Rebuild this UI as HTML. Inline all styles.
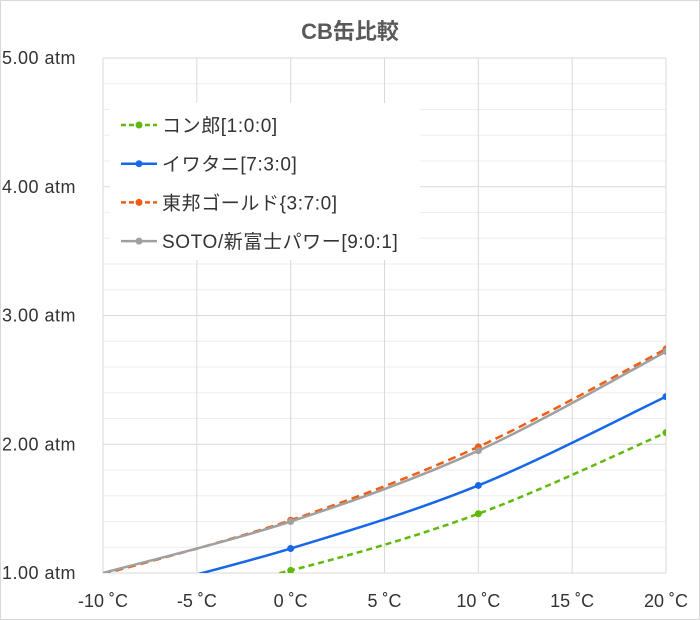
<!DOCTYPE html>
<html><head><meta charset="utf-8"><style>
body{margin:0;background:#fff}
svg{display:block;font-family:"Liberation Sans","Noto Sans CJK JP",sans-serif}
</style></head><body>
<svg id="c" width="700" height="620">
<rect x="0.5" y="0.5" width="699" height="619" fill="#fff" stroke="#d9d9d9"/>
<text x="350" y="39" text-anchor="middle" font-size="22" font-weight="bold" fill="#595959">CB缶比較</text>
<g id="grid"></g><g id="axes"></g>
<defs><clipPath id="pc"><rect x="103" y="58" width="563" height="515"/></clipPath></defs>
<g id="series" clip-path="url(#pc)"></g>
<g id="legend"></g>
</svg>
<script>
const temps=[-10,0,10,20];
const seriesNames=["コン郎[1:0:0]","イワタニ[7:3:0]","東邦ゴールド{3:7:0]","SOTO/新富士パワー[9:0:1]"];
const konro=[0.72,1.02,1.46,2.09];
const iwatani=[0.80,1.19,1.68,2.37];
const toho=[0.99,1.41,1.98,2.74];
const soto=[1.00,1.40,1.95,2.72];
const xTicks=[-10,-5,0,5,10,15,20];
const yTicks=[1,2,3,4,5];
const X0=103,X1=666,Y0=573,Y1=58;
const xs=v=>X0+(v+10)/30*(X1-X0);
const ys=v=>Y0-(v-1)/4*(Y0-Y1);
const NS="http://www.w3.org/2000/svg";
function mk(t,a,p){const e=document.createElementNS(NS,t);for(const k in a)e.setAttribute(k,a[k]);p.appendChild(e);return e;}
const grid=document.getElementById('grid'),axes=document.getElementById('axes');
for(let v=1;v<=5.001;v+=0.2){const major=Math.abs(v-Math.round(v))<0.01;
const l=mk('line',{x1:X0,x2:X1,y1:ys(v),y2:ys(v),stroke:major?'#d9d9d9':'#eeeeee','stroke-width':1},grid);

}
xTicks.forEach(t=>{const l=mk('line',{x1:xs(t),x2:xs(t),y1:Y1,y2:Y0,stroke:'#d9d9d9'},grid);


const tx=mk('text',{x:xs(t),y:607,'text-anchor':'middle','font-size':18,fill:'#333'},axes);tx.textContent=t+' ˚C';

});
yTicks.forEach(t=>{const tx=mk('text',{x:2,y:ys(t)+6,'font-size':18,'letter-spacing':'0.5',fill:'#333'},axes);tx.textContent=t.toFixed(2)+' atm';

});
function path(vals){const p=temps.map((t,i)=>[xs(t),ys(vals[i])]);let d='M'+p[0];
for(let i=0;i<p.length-1;i++){const a=p[i-1]||p[i],b=p[i],c=p[i+1],e=p[i+2]||c;
d+=` C${b[0]+(c[0]-a[0])/6},${b[1]+(c[1]-a[1])/6} ${c[0]-(e[0]-b[0])/6},${c[1]-(e[1]-b[1])/6} ${c[0]},${c[1]}`;}return d;}
const sdefs=[[konro,'#5fb80a','6,4'],[iwatani,'#1668e8',''],[toho,'#f25c13','8,5'],[soto,'#a0a0a0','']];
const sg=document.getElementById('series');
sdefs.forEach((s,i)=>{const pth=mk('path',{d:path(s[0]),fill:'none',stroke:s[1],'stroke-width':2.5,'stroke-dasharray':s[2]},sg);


temps.forEach((t,j)=>{if(t<0)return;const c=mk('circle',{cx:xs(t),cy:ys(s[0][j]),r:3.5,fill:s[1]},sg);

});});
const lg=document.getElementById('legend');
const bg=mk('rect',{x:110,y:103,width:310,height:157,fill:'#fff'},lg);


sdefs.forEach((s,i)=>{const y=125+i*38.7;
const l=mk('line',{x1:121,x2:157,y1:y,y2:y,stroke:s[1],'stroke-width':2.5,'stroke-dasharray':s[2]?'5,3':''},lg);


const c=mk('circle',{cx:139,cy:y,r:3.5,fill:s[1]},lg);


const tx=mk('text',{x:162,y:y+7,'font-size':19,'letter-spacing':'0.6',fill:'#333'},lg);tx.textContent=seriesNames[i];

});
</script>
</body></html>
